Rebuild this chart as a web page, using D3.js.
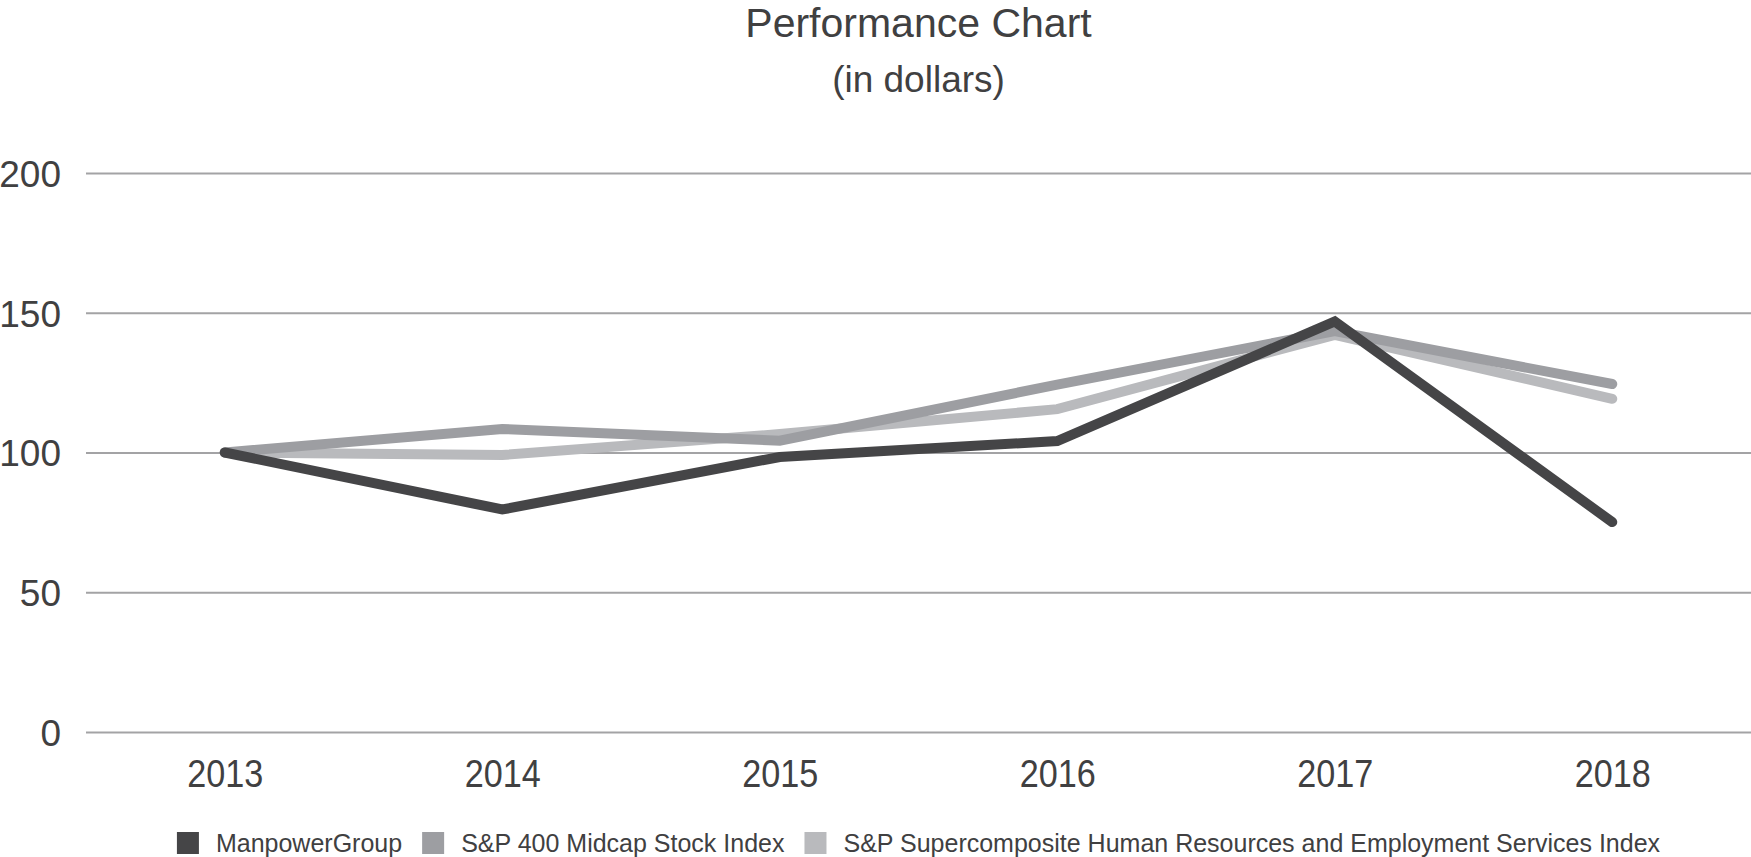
<!DOCTYPE html>
<html lang="en">
<head>
    <meta charset="UTF-8">
    <script src="https://cdn.jsdelivr.net/npm/d3@7"></script>
    <style>
        * { margin: 0; padding: 0; }
        body { background: #ffffff; }
        text { font-family: "Liberation Sans", Arial, sans-serif; fill: #404041; }
    </style>
    <title>Performance Chart</title>
</head>
<body>
    <script>
        const width = 1751;
        const height = 857;
        const margin = { top: 173, right: 0, bottom: 125, left: 86 };

        const years = ["2013", "2014", "2015", "2016", "2017", "2018"];
        const manpower = [100, 79.6, 98.4, 104.1, 146.9, 75.1];
        const midcap = [100, 108.4, 104.2, 124.3, 143.4, 124.5];
        const supercomp = [100, 99.1, 106.6, 115.5, 142.1, 119.2];
        const yTicks = [0, 50, 100, 150, 200];

        const seriesNames = ["ManpowerGroup", "S&P 400 Midcap Stock Index",
            "S&P Supercomposite Human Resources and Employment Services Index"];
        const seriesColors = ["#454547", "#9d9ea2", "#b9babd"];
        const series = [manpower, midcap, supercomp];

        const svg = d3.select("body").append("svg")
            .attr("width", width)
            .attr("height", height);

        const x = d3.scalePoint()
            .domain(years)
            .range([margin.left, width - margin.right])
            .padding(0.5);

        const y = d3.scaleLinear()
            .domain([0, 200])
            .range([height - margin.bottom, margin.top]);

        const plotCenter = (margin.left + width - margin.right) / 2;

        // titles
        svg.append("text")
            .attr("x", plotCenter)
            .attr("y", 37)
            .attr("text-anchor", "middle")
            .style("font-size", "41px")
            .text("Performance Chart");
        svg.append("text")
            .attr("x", plotCenter)
            .attr("y", 92)
            .attr("text-anchor", "middle")
            .style("font-size", "37px")
            .text("(in dollars)");

        // gridlines + y labels
        const yAxis = svg.append("g")
            .attr("transform", `translate(${margin.left},0)`)
            .call(d3.axisLeft(y).tickValues(yTicks)
                .tickSize(-(width - margin.left - margin.right))
                .tickPadding(25));
        yAxis.select(".domain").remove();
        yAxis.selectAll(".tick line").attr("stroke", "#a3a3a5").attr("stroke-width", 2);
        yAxis.selectAll(".tick text")
            .style("font-size", "37px")
            .attr("dy", "0.36em");

        // x labels (slightly condensed like the original)
        const xAxis = svg.append("g")
            .attr("transform", `translate(0,${height - margin.bottom})`)
            .call(d3.axisBottom(x).tickSize(0).tickPadding(0));
        xAxis.select(".domain").remove();
        xAxis.selectAll(".tick text")
            .attr("dy", 0)
            .attr("y", 55)
            .attr("x", 0)
            .style("font-size", "38px")
            .attr("transform", "scale(0.9,1)");

        // lines, last series underneath
        const line = d3.line()
            .x((d, i) => x(years[i]))
            .y(d => y(d));

        svg.append("g").selectAll("path")
            .data(series.map((s, i) => ({ values: s, color: seriesColors[i] })).reverse())
            .enter().append("path")
            .attr("d", d => line(d.values))
            .attr("fill", "none")
            .attr("stroke", d => d.color)
            .attr("stroke-width", 10)
            .attr("stroke-linecap", "round")
            .attr("stroke-linejoin", "miter");

        // legend
        const legend = svg.append("g");
        const box = 22, boxGap = 17, itemGap = 20;
        const items = legend.selectAll("g.item")
            .data(seriesNames)
            .enter().append("g")
            .classed("item", true);
        items.append("rect")
            .attr("width", box)
            .attr("height", box)
            .attr("y", -box / 2)
            .attr("fill", (d, i) => seriesColors[i]);
        items.append("text")
            .attr("x", box + boxGap)
            .attr("dy", "0.36em")
            .style("font-size", "25px")
            .text(d => d);

        let offset = 0;
        const widths = [];
        items.each(function () {
            const w = box + boxGap + d3.select(this).select("text").node().getComputedTextLength();
            widths.push(w);
        });
        const total = d3.sum(widths) + itemGap * (widths.length - 1);
        items.attr("transform", (d, i) => {
            const tx = plotCenter - total / 2 + offset;
            offset += widths[i] + itemGap;
            return `translate(${tx},843)`;
        });
    </script>
</body>
</html>
